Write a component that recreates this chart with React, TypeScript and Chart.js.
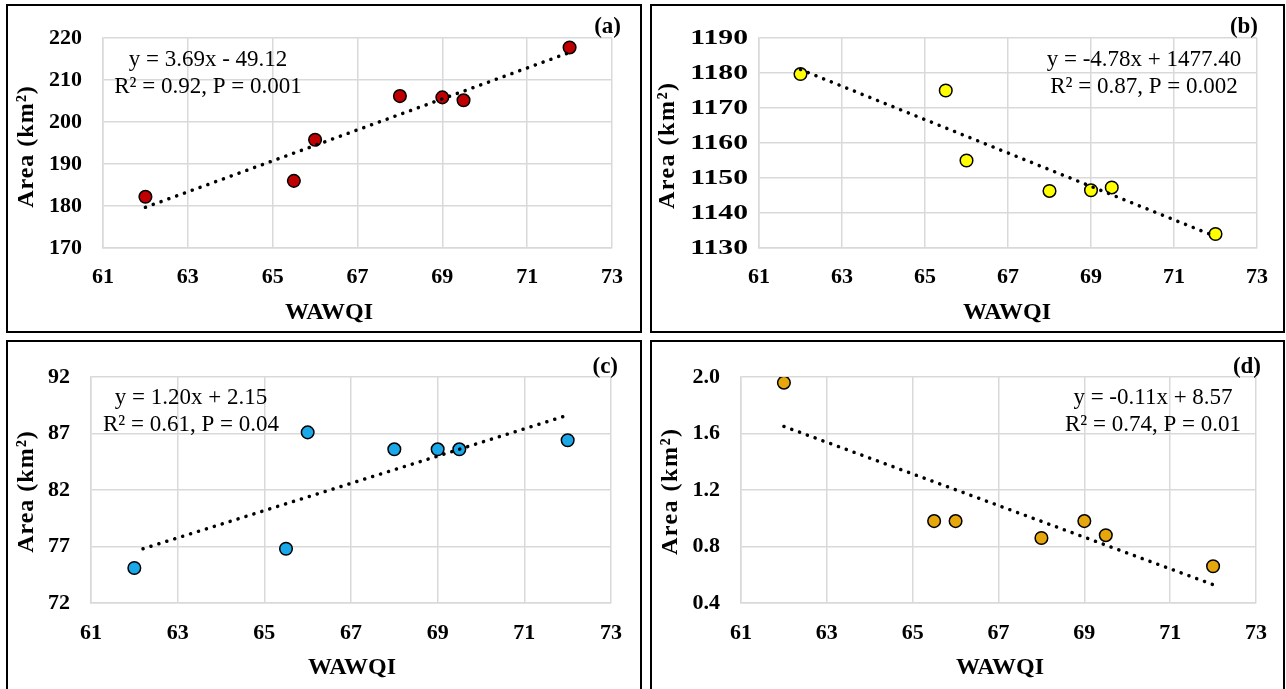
import React, { useEffect, useRef } from "react";
import { Chart, registerables } from "chart.js";

Chart.register(...registerables);

// ---------- data ----------
const wawqi = [62, 65.5, 66, 68, 69, 69.5, 72];
const areaA = [182.2, 186.0, 195.8, 206.2, 205.9, 205.2, 217.8];
const areaB = [1179.7, 1175.0, 1155.0, 1146.3, 1146.5, 1147.3, 1134.0];
const areaC = [75.1, 76.8, 87.1, 85.6, 85.6, 85.6, 86.4];
const areaD = [1.96, 0.98, 0.98, 0.86, 0.98, 0.88, 0.66];

const trendXA = [62, 72];
const trendA = [179.7, 216.6];
const trendXB = [62, 72];
const trendB = [1181.0, 1133.3];
const trendXC = [62.2, 71.9];
const trendC = [76.8, 88.5];
const trendXD = [62, 72];
const trendD = [1.65, 0.53];

const xTicks = [61, 63, 65, 67, 69, 71, 73];
const yTicksA = [170, 180, 190, 200, 210, 220];
const yTicksB = [1130, 1140, 1150, 1160, 1170, 1180, 1190];
const yTicksC = [72, 77, 82, 87, 92];
const yTicksD = [0.4, 0.8, 1.2, 1.6, 2.0];

const eqA = ["y = 3.69x - 49.12", "R² = 0.92, P = 0.001"];
const eqB = ["y = -4.78x + 1477.40", "R² = 0.87, P = 0.002"];
const eqC = ["y = 1.20x + 2.15", "R² = 0.61, P = 0.04"];
const eqD = ["y = -0.11x + 8.57", "R² = 0.74, P = 0.01"];

const xTitle = "WAWQI";
const yTitle = "Area (km²)";

const SERIF = "'Liberation Serif', 'Times New Roman', serif";

type PanelCfg = {
  id: string;
  label: string;
  left: number;
  top: number;
  width: number;
  height: number;
  canvasH: number;
  xs: number[];
  ys: number[];
  tx: number[];
  ty: number[];
  yTicks: number[];
  decimals: number;
  color: string;
  eq: string[];
  plot: { l: number; r: number; t: number; b: number };
  yPad: number;
  xPad: number;
  yLabelScale: number;
  yTitleSpacing: number;
  yTitlePos: [number, number];
  xTitlePos: [number, number];
  labelPos: [number, number];
  eqPos: [number, number, number];
};

const panels: PanelCfg[] = [
  {
    id: "a", label: "(a)", left: 6, top: 4, width: 636, height: 329, canvasH: 329,
    xs: wawqi, ys: areaA, tx: trendXA, ty: trendA, yTicks: yTicksA, decimals: 0,
    color: "#C00000", eq: eqA,
    plot: { l: 97, r: 606, t: 34, b: 244 }, yPad: 21, xPad: 16,
    yLabelScale: 1, yTitleSpacing: 1,
    yTitlePos: [21, 143], xTitlePos: [323, 309], labelPos: [615, 23], eqPos: [202, 56, 83],
  },
  {
    id: "b", label: "(b)", left: 650, top: 4, width: 635, height: 329, canvasH: 329,
    xs: wawqi, ys: areaB, tx: trendXB, ty: trendB, yTicks: yTicksB, decimals: 0,
    color: "#FFFF00", eq: eqB,
    plot: { l: 109, r: 607, t: 34, b: 244 }, yPad: 11, xPad: 16,
    yLabelScale: 1.35, yTitleSpacing: 1.5,
    yTitlePos: [18, 142], xTitlePos: [357, 309], labelPos: [608, 23], eqPos: [494, 56, 83],
  },
  {
    id: "c", label: "(c)", left: 6, top: 340, width: 636, height: 360, canvasH: 349,
    xs: wawqi, ys: areaC, tx: trendXC, ty: trendC, yTicks: yTicksC, decimals: 0,
    color: "#1AA8E8", eq: eqC,
    plot: { l: 85, r: 605, t: 37, b: 263 }, yPad: 21, xPad: 17,
    yLabelScale: 1, yTitleSpacing: 1,
    yTitlePos: [21, 152], xTitlePos: [346, 328], labelPos: [612, 27], eqPos: [185, 58, 85],
  },
  {
    id: "d", label: "(d)", left: 650, top: 340, width: 635, height: 360, canvasH: 349,
    xs: wawqi, ys: areaD, tx: trendXD, ty: trendD, yTicks: yTicksD, decimals: 1,
    color: "#E6A70C", eq: eqD,
    plot: { l: 91, r: 606, t: 37, b: 263 }, yPad: 21, xPad: 17,
    yLabelScale: 1, yTitleSpacing: 1.5,
    yTitlePos: [21, 152], xTitlePos: [350, 328], labelPos: [611, 27], eqPos: [503, 58, 85],
  },
];

function makeTextPlugin(p: PanelCfg) {
  return {
    id: "texts_" + p.id,
    afterDraw(chart: any) {
      const ctx = chart.ctx as any;
      ctx.save();
      ctx.fillStyle = "#000";
      // horizontally widened y tick labels (panel b)
      if (p.yLabelScale !== 1) {
        const ys = chart.scales.y;
        ctx.font = `bold 22px ${SERIF}`;
        ctx.textAlign = "right";
        ctx.textBaseline = "middle";
        for (const t of ys.ticks) {
          const py = ys.getPixelForValue(t.value);
          ctx.save();
          ctx.translate(chart.chartArea.left - p.yPad, py);
          ctx.scale(p.yLabelScale, 1);
          ctx.fillText(Number(t.value).toFixed(p.decimals), 0, 0);
          ctx.restore();
        }
      }
      // x title
      ctx.font = `bold 24px ${SERIF}`;
      ctx.textAlign = "center";
      ctx.textBaseline = "middle";
      ctx.fillText(xTitle, p.xTitlePos[0], p.xTitlePos[1]);
      // y title
      ctx.save();
      ctx.translate(p.yTitlePos[0], p.yTitlePos[1]);
      ctx.rotate(-Math.PI / 2);
      ctx.font = `bold 24px ${SERIF}`;
      ctx.letterSpacing = `${p.yTitleSpacing}px`;
      ctx.fillText(yTitle, p.yTitleSpacing / 2, 0);
      ctx.letterSpacing = "0px";
      ctx.restore();
      // panel label
      ctx.font = `bold 23px ${SERIF}`;
      ctx.textAlign = "right";
      ctx.fillText(p.label, p.labelPos[0], p.labelPos[1]);
      // equation
      ctx.font = `23px ${SERIF}`;
      ctx.textAlign = "center";
      ctx.fillText(p.eq[0], p.eqPos[0], p.eqPos[1]);
      ctx.fillText(p.eq[1], p.eqPos[0], p.eqPos[2]);
      ctx.restore();
    },
  };
}

function Panel({ p }: { p: PanelCfg }) {
  const ref = useRef<HTMLCanvasElement | null>(null);
  useEffect(() => {
    if (!ref.current) return;
    const yMin = p.yTicks[0];
    const yMax = p.yTicks[p.yTicks.length - 1];
    const chart = new Chart(ref.current, {
      type: "scatter",
      data: {
        datasets: [
          {
            type: "line",
            data: p.tx.map((x, i) => ({ x, y: p.ty[i] })),
            borderColor: "#000",
            borderWidth: 3.5,
            borderDash: [0.1, 8.2],
            borderCapStyle: "round",
            pointRadius: 0,
            fill: false,
            order: 0,
          } as any,
          {
            type: "scatter",
            data: p.xs.map((x, i) => ({ x, y: p.ys[i] })),
            backgroundColor: p.color,
            borderColor: "#000",
            borderWidth: 1.5,
            pointRadius: 6.3,
            order: 1,
          } as any,
        ],
      },
      options: {
        animation: false,
        responsive: false,
        maintainAspectRatio: false,
        layout: {
          padding: {
            left: 0,
            top: p.plot.t,
            right: p.width - p.plot.r,
            bottom: 0,
          },
        },
        plugins: {
          legend: { display: false },
          tooltip: { enabled: false },
        },
        scales: {
          x: {
            type: "linear",
            min: xTicks[0],
            max: xTicks[xTicks.length - 1],
            afterBuildTicks: (s: any) => {
              s.ticks = xTicks.map((v) => ({ value: v }));
            },
            afterFit: (s: any) => {
              s.height = p.canvasH - p.plot.b;
            },
            grid: { color: "#D9D9D9", lineWidth: 1.5, drawTicks: false },
            border: { color: "#D9D9D9", width: 1.5 },
            ticks: {
              padding: p.xPad,
              color: "#000",
              font: { family: SERIF, size: 22, weight: "bold" },
              maxRotation: 0,
              autoSkip: false,
            },
          },
          y: {
            type: "linear",
            min: yMin,
            max: yMax,
            afterBuildTicks: (s: any) => {
              s.ticks = p.yTicks.map((v) => ({ value: v }));
            },
            afterFit: (s: any) => {
              s.width = p.plot.l;
            },
            grid: { color: "#D9D9D9", lineWidth: 1.5, drawTicks: false },
            border: { color: "#D9D9D9", width: 1.5 },
            ticks: {
              padding: p.yPad,
              color: p.yLabelScale !== 1 ? "rgba(0,0,0,0)" : "#000",
              font: { family: SERIF, size: 22, weight: "bold" },
              autoSkip: false,
              callback: (v: any) => Number(v).toFixed(p.decimals),
            },
          },
        },
      } as any,
      plugins: [makeTextPlugin(p)],
    });
    return () => chart.destroy();
  }, [p]);

  return (
    <>
      <div
        style={{
          position: "absolute",
          left: p.left,
          top: p.top,
          width: p.width,
          height: p.height,
          border: "2px solid #000",
          boxSizing: "border-box",
          background: "#fff",
        }}
      />
      <canvas
        ref={ref}
        width={p.width}
        height={p.canvasH}
        style={{
          position: "absolute",
          left: p.left,
          top: p.top,
          width: p.width,
          height: p.canvasH,
        }}
      />
    </>
  );
}

export default function App() {
  return (
    <div
      style={{
        position: "fixed",
        left: 0,
        top: 0,
        width: 1286,
        height: 689,
        background: "#fff",
        overflow: "hidden",
      }}
    >
      {panels.map((p) => (
        <Panel key={p.id} p={p} />
      ))}
    </div>
  );
}
